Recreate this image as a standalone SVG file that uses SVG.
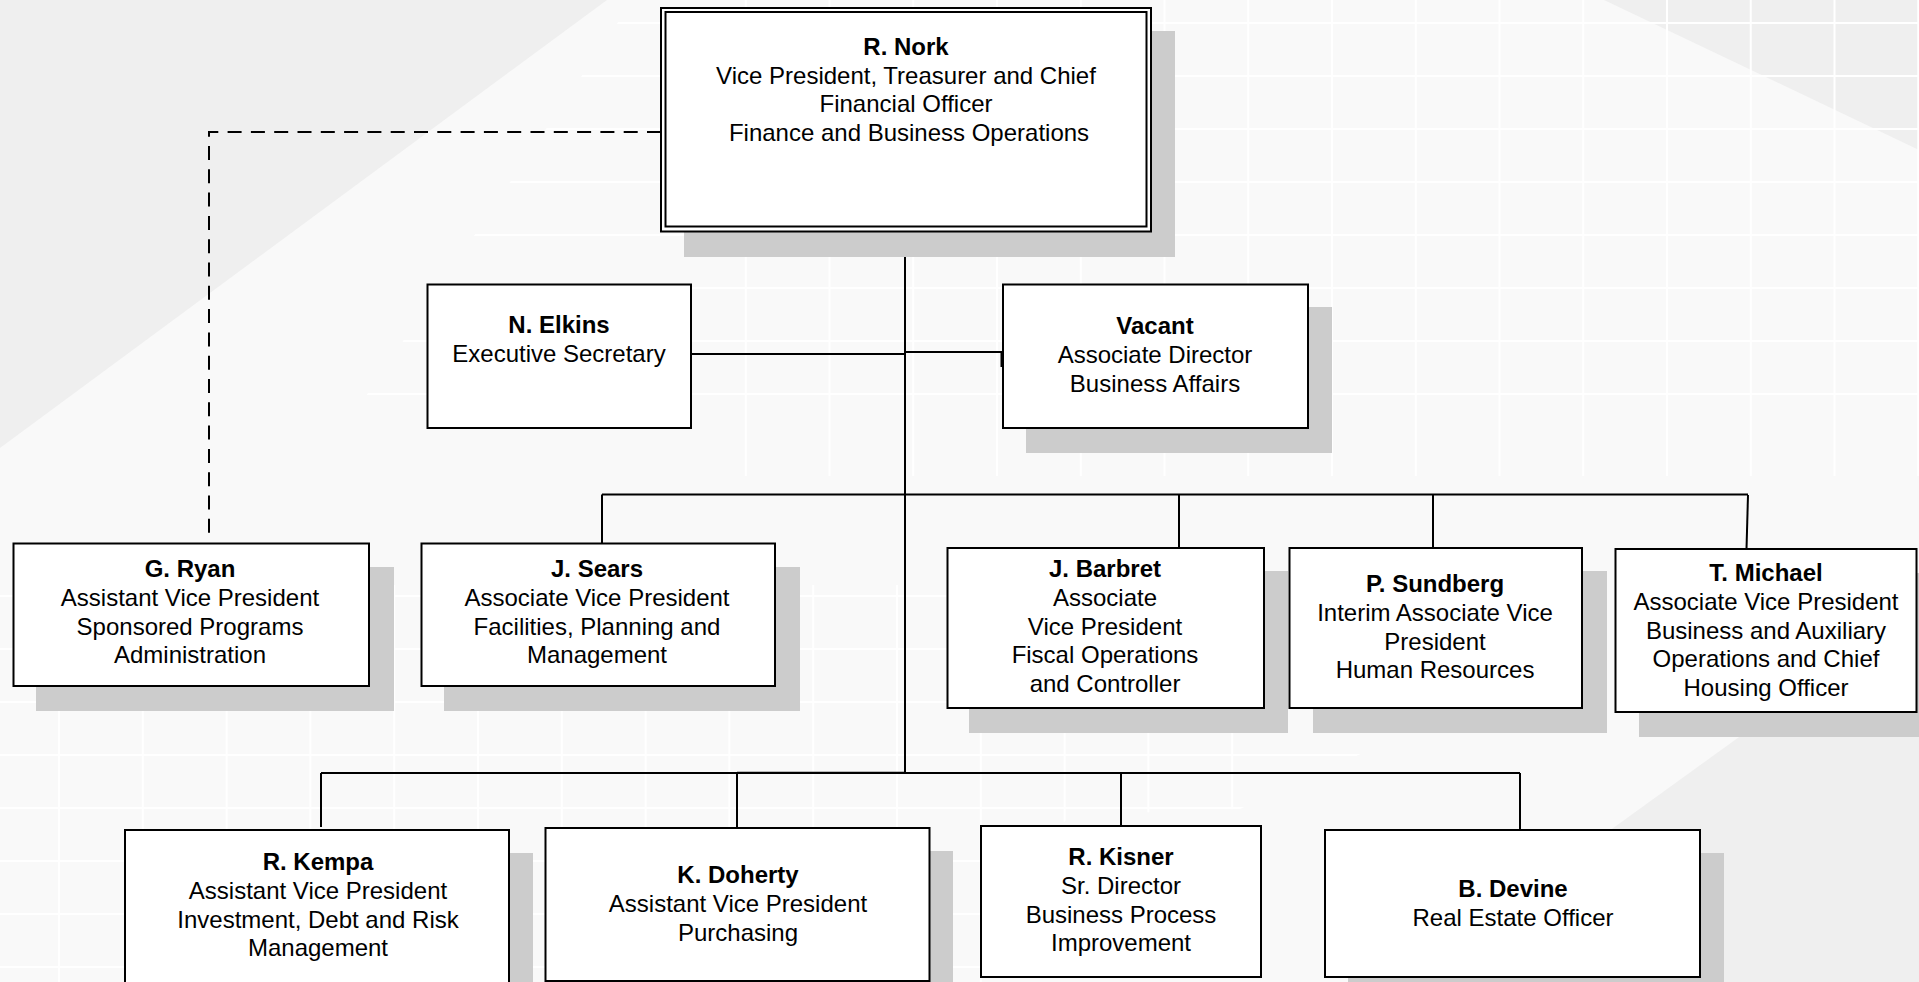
<svg xmlns="http://www.w3.org/2000/svg" width="1919" height="982" viewBox="0 0 1919 982">
<style>
.box{fill:#fff;stroke:#000;stroke-width:2}
.sh{fill:#cccccc}
.t{font-family:"Liberation Sans",Arial,sans-serif;font-size:24px;text-anchor:middle;fill:#000}
.b{font-weight:bold}
.conn{stroke:#000;stroke-width:2;fill:none}
.dash{stroke-dasharray:14 9.3}
.grid{stroke:#fff;stroke-width:2;fill:none}
</style>
<defs>
<clipPath id="clipTop"><polygon points="633,0 1919,0 1919,476 312,476"/></clipPath>
<clipPath id="clipBot"><polygon points="0,585 940,585 1365,752 1240,809 1075,815 1000,862 1000,982 0,982"/></clipPath>
</defs>
<g id="background">
<rect x="0" y="0" width="1919" height="982" fill="#f9f9f9"/>
<polygon points="0,0 607,0 0,448" fill="#efefef"/>
<polygon points="1604,0 1919,0 1919,150" fill="#efefef"/>
<polygon points="1919,607 1919,982 1400,982" fill="#efefef"/>
<path class="grid" clip-path="url(#clipTop)" d="M745.75,0V476M829.5,0V476M913.25,0V476M997,0V476M1080.75,0V476M1164.5,0V476M1248.25,0V476M1332,0V476M1415.75,0V476M1499.5,0V476M1583.25,0V476M1667,0V476M1750.75,0V476M1834.5,0V476M1918.25,0V476M0,23H1919M0,76H1919M0,129H1919M0,182H1919M0,235H1919M0,288H1919M0,341H1919M0,394H1919"/>
<path class="grid" clip-path="url(#clipBot)" d="M59,585V982M142.8,585V982M226.6,585V982M310.4,585V982M394.2,585V982M478,585V982M561.8,585V982M645.6,585V982M729.4,585V982M813.2,585V982M897,585V982M980.8,585V982M1064.6,585V982M1148.4,585V982M1232.2,585V982M0,596H1400M0,649H1400M0,702H1400M0,755H1400M0,808H1400M0,861H1400M0,914H1400M0,967H1400"/>
</g>
<g id="connectors">
<path class="conn dash" d="M661,132H209V537"/>
<path class="conn" d="M905,232V773"/>
<path class="conn" d="M691,354H905"/>
<path class="conn" d="M905,352H1002"/>
<path class="conn" d="M1001.5,352V367" stroke-width="3"/>
<path class="conn" d="M602,494.5H1748"/>
<path class="conn" d="M602,494.5V543"/>
<path class="conn" d="M1179,495V548"/>
<path class="conn" d="M1433,495V548"/>
<path class="conn" d="M1748,495L1746.5,549"/>
<path class="conn" d="M321,773H1520"/>
<path class="conn" d="M737,772.7H905" stroke-width="3.4"/>
<path class="conn" d="M321,773V827"/>
<path class="conn" d="M737,773V828"/>
<path class="conn" d="M1121,773V826"/>
<path class="conn" d="M1520,773V834"/>
</g>
<g id="nork">
<rect class="sh" x="684" y="31" width="491" height="226"/>
<rect class="box" x="661" y="8" width="490" height="223.5"/>
<rect class="box" x="665.5" y="12" width="481" height="214.5"/>
<text class="t b" x="906" y="55">R. Nork</text>
<text class="t" x="906" y="83.7">Vice President, Treasurer and Chief</text>
<text class="t" x="906" y="112.2">Financial Officer</text>
<text class="t" x="909" y="140.7">Finance and Business Operations</text>
</g>
<g id="elkins">
<rect class="box" x="427.5" y="284.5" width="263.5" height="143.5"/>
<text class="t b" x="559" y="333">N. Elkins</text>
<text class="t" x="559" y="361.8">Executive Secretary</text>
</g>
<g id="vacant">
<rect class="sh" x="1026" y="307" width="306" height="146"/>
<rect class="box" x="1003" y="284.5" width="305" height="143.5"/>
<text class="t b" x="1155" y="334">Vacant</text>
<text class="t" x="1155" y="362.8">Associate Director</text>
<text class="t" x="1155" y="391.6">Business Affairs</text>
</g>
<g id="ryan">
<rect class="sh" x="36" y="567" width="358" height="144"/>
<rect class="box" x="13.5" y="543.5" width="355.5" height="142.5"/>
<text class="t b" x="190" y="577">G. Ryan</text>
<text class="t" x="190" y="605.8">Assistant Vice President</text>
<text class="t" x="190" y="634.6">Sponsored Programs</text>
<text class="t" x="190" y="663.4">Administration</text>
</g>
<g id="sears">
<rect class="sh" x="444" y="567" width="356" height="144"/>
<rect class="box" x="421.5" y="543.5" width="353.5" height="142.5"/>
<text class="t b" x="597" y="577">J. Sears</text>
<text class="t" x="597" y="605.8">Associate Vice President</text>
<text class="t" x="597" y="634.6">Facilities, Planning and</text>
<text class="t" x="597" y="663.4">Management</text>
</g>
<g id="barbret">
<rect class="sh" x="969" y="571" width="319" height="162"/>
<rect class="box" x="947.5" y="548" width="316.5" height="160"/>
<text class="t b" x="1105" y="577">J. Barbret</text>
<text class="t" x="1105" y="605.8">Associate</text>
<text class="t" x="1105" y="634.6">Vice President</text>
<text class="t" x="1105" y="663.4">Fiscal Operations</text>
<text class="t" x="1105" y="692.2">and Controller</text>
</g>
<g id="sundberg">
<rect class="sh" x="1313" y="571" width="294" height="162"/>
<rect class="box" x="1289.5" y="548" width="292.5" height="160"/>
<text class="t b" x="1435" y="592">P. Sundberg</text>
<text class="t" x="1435" y="620.8">Interim Associate Vice</text>
<text class="t" x="1435" y="649.6">President</text>
<text class="t" x="1435" y="678.4">Human Resources</text>
</g>
<g id="michael">
<rect class="sh" x="1639" y="573" width="290" height="164"/>
<rect class="box" x="1615.5" y="549" width="301" height="163"/>
<text class="t b" x="1766" y="581">T. Michael</text>
<text class="t" x="1766" y="609.8">Associate Vice President</text>
<text class="t" x="1766" y="638.6">Business and Auxiliary</text>
<text class="t" x="1766" y="667.4">Operations and Chief</text>
<text class="t" x="1766" y="696.2">Housing Officer</text>
</g>
<g id="kempa">
<rect class="sh" x="148" y="853" width="385" height="200"/>
<rect class="box" x="125" y="830" width="384" height="200"/>
<text class="t b" x="318" y="870">R. Kempa</text>
<text class="t" x="318" y="898.8">Assistant Vice President</text>
<text class="t" x="318" y="927.6">Investment, Debt and Risk</text>
<text class="t" x="318" y="956.4">Management</text>
</g>
<g id="doherty">
<rect class="sh" x="569" y="851" width="384" height="200"/>
<rect class="box" x="545.5" y="828" width="384" height="153"/>
<text class="t b" x="738" y="883">K. Doherty</text>
<text class="t" x="738" y="911.8">Assistant Vice President</text>
<text class="t" x="738" y="940.6">Purchasing</text>
</g>
<g id="kisner">
<rect class="box" x="981" y="826" width="280" height="151"/>
<text class="t b" x="1121" y="865">R. Kisner</text>
<text class="t" x="1121" y="893.8">Sr. Director</text>
<text class="t" x="1121" y="922.6">Business Process</text>
<text class="t" x="1121" y="951.4">Improvement</text>
</g>
<g id="devine">
<rect class="sh" x="1348" y="853" width="376" height="200"/>
<rect class="box" x="1325" y="830" width="375" height="147"/>
<text class="t b" x="1513" y="897">B. Devine</text>
<text class="t" x="1513" y="925.8">Real Estate Officer</text>
</g>
</svg>
